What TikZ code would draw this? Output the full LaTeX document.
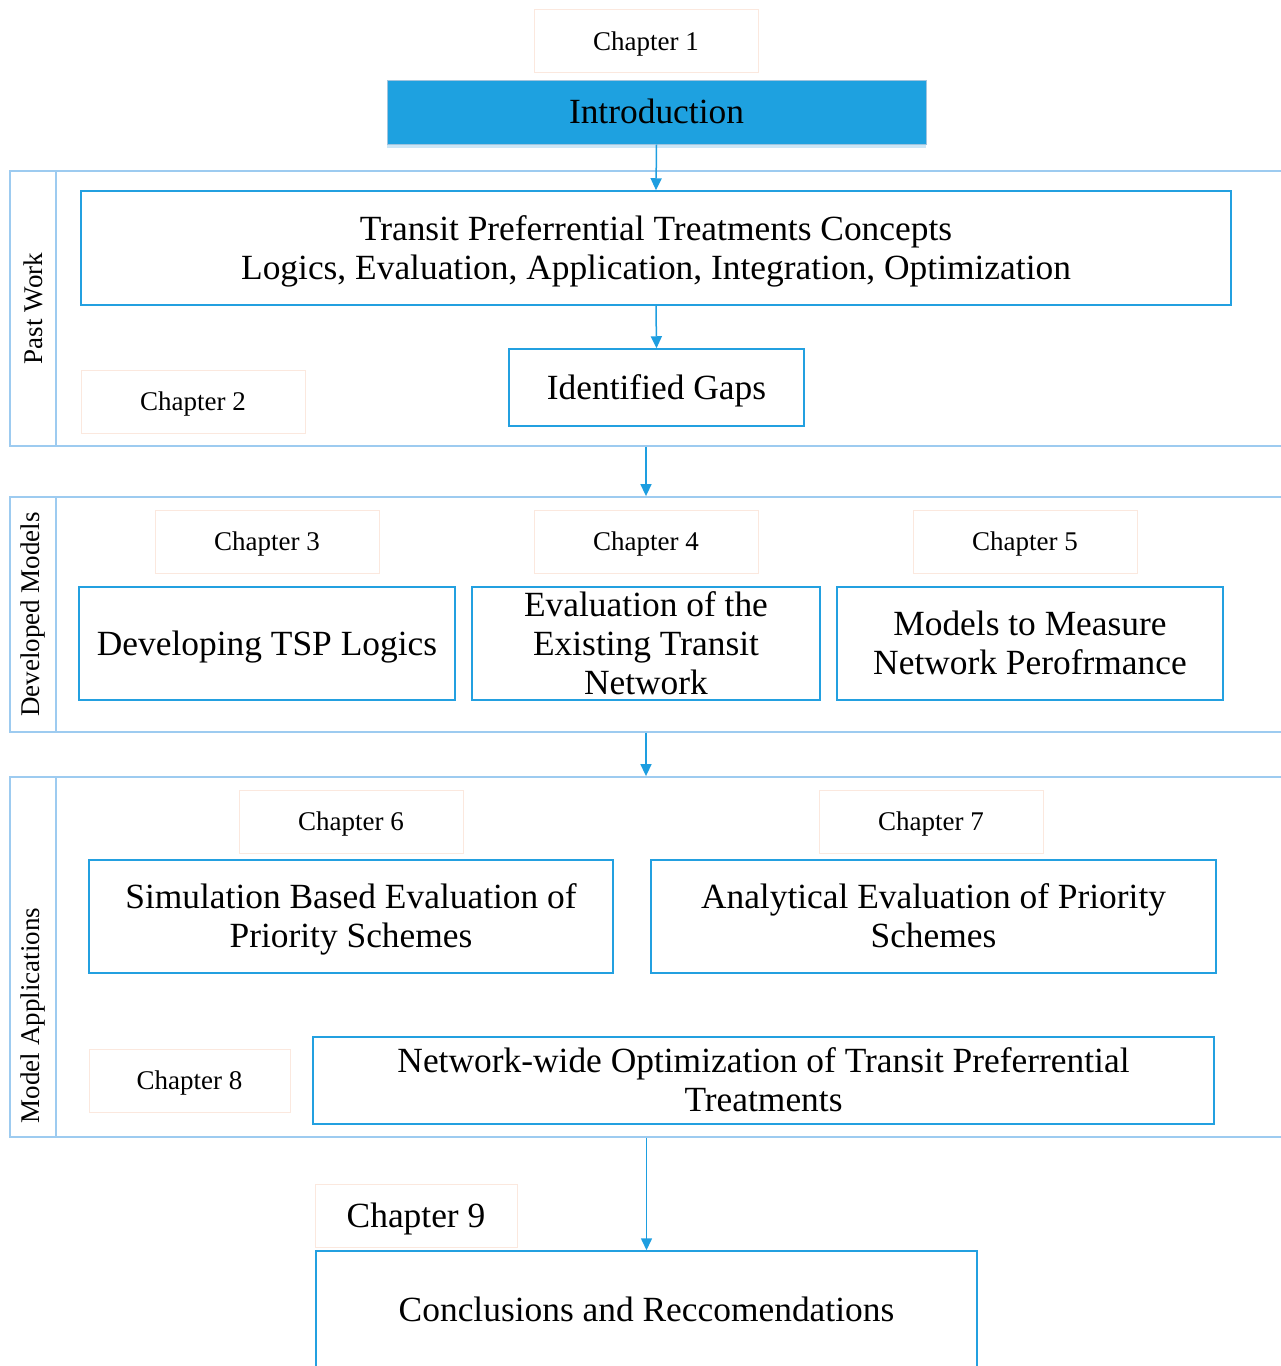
\documentclass[tikz,border=0pt]{standalone}
\usepackage{fontspec}
\setmainfont{Liberation Serif}
\usetikzlibrary{arrows.meta}
\definecolor{boxblue}{RGB}{35,160,224}
\definecolor{framec}{RGB}{157,203,240}
\definecolor{introfill}{RGB}{30,161,224}
\definecolor{introborder}{RGB}{160,196,222}
\definecolor{introshadow}{RGB}{205,230,246}
\definecolor{chapborder}{RGB}{251,232,222}
\definecolor{arrowc}{RGB}{30,158,224}
\newcommand\lnstrut{\rule[-0.21em]{0pt}{1.09em}}
\begin{document}
\begin{tikzpicture}[x=1pt,y=-1pt,
  bigtxt/.style={font=\fontsize{35.4}{39}\selectfont},
  smalltxt/.style={font=\fontsize{27}{31}\selectfont},
  mainbox/.style={draw=boxblue, line width=1.5pt, inner sep=0pt, bigtxt, align=center},
  chapbox/.style={draw=chapborder, line width=1pt, inner sep=0pt, smalltxt, minimum width=224pt, minimum height=63pt},
  framebox/.style={draw=framec, line width=1.8pt, inner sep=0pt},
  arr/.style={draw=arrowc, line width=1.5pt, -{Triangle[length=12pt,width=11pt]}}
]
\useasboundingbox (0,0) rectangle (1281,1366);
\clip (0,0) rectangle (1281,1366);

% top
\node[chapbox] (ch1) at (646,41) {\lnstrut Chapter 1};
\fill[introshadow] (387,144) rectangle (926,148);
\node[draw=introborder, fill=introfill, line width=1pt, inner sep=0pt, bigtxt,
      minimum width=539pt, minimum height=64pt] (intro) at (656.5,112) {\lnstrut Introduction};

% Past Work section
\node[framebox, rotate=90, minimum width=275pt, minimum height=46pt, smalltxt] (pwlab) at (33,308.5) {Past Work};
\node[framebox, minimum width=1234pt, minimum height=275pt] (pw) at (673,308.5) {};
\node[mainbox, minimum width=1150pt, minimum height=114pt] (concepts) at (656,248)
  {\lnstrut Transit Preferrential Treatments Concepts\\\lnstrut Logics, Evaluation, Application, Integration, Optimization};
\node[mainbox, minimum width=295pt, minimum height=77pt] (gaps) at (656.5,387.5) {\lnstrut Identified Gaps};
\node[chapbox] (ch2) at (193,401.5) {\lnstrut Chapter 2};

% Developed Models section
\node[framebox, rotate=90, minimum width=235pt, minimum height=46pt, smalltxt] (dmlab) at (33,614.5) {Developed Models};
\node[framebox, minimum width=1234pt, minimum height=235pt] (dm) at (673,614.5) {};
\node[chapbox] (ch3) at (267,541.5) {\lnstrut Chapter 3};
\node[chapbox] (ch4) at (646,541.5) {\lnstrut Chapter 4};
\node[chapbox] (ch5) at (1025,541.5) {\lnstrut Chapter 5};
\node[mainbox, minimum width=376pt, minimum height=113pt] (tsp) at (267,643.5) {\lnstrut Developing TSP Logics};
\node[mainbox, minimum width=348pt, minimum height=113pt] (evalx) at (646,643.5) {Evaluation of the\\Existing Transit\\Network};
\node[mainbox, minimum width=386pt, minimum height=113pt] (models) at (1030,643.5) {\lnstrut Models to Measure\\\lnstrut Network Perofrmance};

% Model Applications section
\node[framebox, minimum width=46pt, minimum height=360pt] (malab) at (33,957) {};
\node[smalltxt, rotate=90, inner sep=0pt] (malabtxt) at (33,1015.5) {Model Applications};
\node[framebox, minimum width=1234pt, minimum height=360pt] (ma) at (673,957) {};
\node[chapbox] (ch6) at (351,821.5) {\lnstrut Chapter 6};
\node[chapbox] (ch7) at (931,821.5) {\lnstrut Chapter 7};
\node[mainbox, minimum width=524pt, minimum height=113pt] (sim) at (351,916.5) {\lnstrut Simulation Based Evaluation of\\\lnstrut Priority Schemes};
\node[mainbox, minimum width=565pt, minimum height=113pt] (ana) at (933.5,916.5) {\lnstrut Analytical Evaluation of Priority\\\lnstrut Schemes};
\node[chapbox, minimum width=201pt] (ch8) at (189.5,1080.5) {\lnstrut Chapter 8};
\node[mainbox, minimum width=901pt, minimum height=87pt] (netw) at (763.5,1080.5) {\lnstrut Network-wide Optimization of Transit Preferrential\\\lnstrut Treatments};

% bottom
\node[chapbox, minimum width=202pt, bigtxt] (ch9) at (416,1215.5) {\lnstrut Chapter 9};
\node[mainbox, minimum width=661pt, minimum height=118pt] (concl) at (646.5,1310) {\lnstrut Conclusions and Reccomendations};

% arrows
\draw[arr] (intro.south) -- (concepts.north);
\draw[arr] (concepts.south) -- (gaps.north);
\draw[arr] (pw.south -| ch4.center) -- (dm.north -| ch4.center);
\draw[arr] (dm.south -| ch4.center) -- (ma.north -| ch4.center);
\draw[arr] (ma.south -| concl.center) -- (concl.north);
\end{tikzpicture}
\end{document}
